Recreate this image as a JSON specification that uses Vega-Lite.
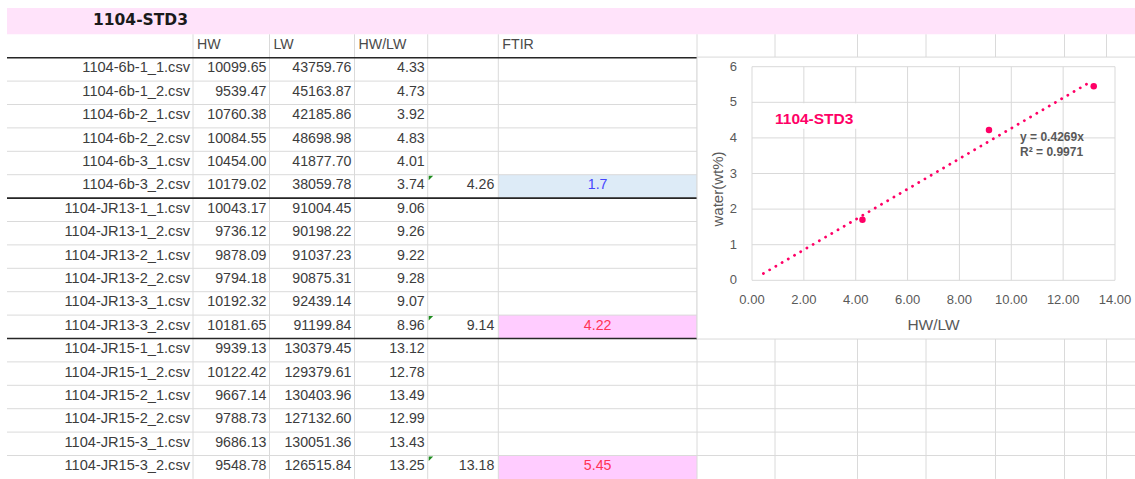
{
  "$schema": "https://vega.github.io/schema/vega-lite/v6.json",
  "width": 1135,
  "height": 479,
  "padding": 0,
  "autosize": {"type": "none"},
  "background": "white",
  "config": {"view": {"stroke": null}, "axis": {"disable": true}},
  "datasets": {
    "rows": [
      {"file": "1104-6b-1_1.csv", "sample": "6b", "HW": 10099.65, "LW": 43759.76, "ratio": 4.33},
      {"file": "1104-6b-1_2.csv", "sample": "6b", "HW": 9539.47, "LW": 45163.87, "ratio": 4.73},
      {"file": "1104-6b-2_1.csv", "sample": "6b", "HW": 10760.38, "LW": 42185.86, "ratio": 3.92},
      {"file": "1104-6b-2_2.csv", "sample": "6b", "HW": 10084.55, "LW": 48698.98, "ratio": 4.83},
      {"file": "1104-6b-3_1.csv", "sample": "6b", "HW": 10454.00, "LW": 41877.70, "ratio": 4.01},
      {"file": "1104-6b-3_2.csv", "sample": "6b", "HW": 10179.02, "LW": 38059.78, "ratio": 3.74, "avg": 4.26, "ftir": 1.7},
      {"file": "1104-JR13-1_1.csv", "sample": "JR13", "HW": 10043.17, "LW": 91004.45, "ratio": 9.06},
      {"file": "1104-JR13-1_2.csv", "sample": "JR13", "HW": 9736.12, "LW": 90198.22, "ratio": 9.26},
      {"file": "1104-JR13-2_1.csv", "sample": "JR13", "HW": 9878.09, "LW": 91037.23, "ratio": 9.22},
      {"file": "1104-JR13-2_2.csv", "sample": "JR13", "HW": 9794.18, "LW": 90875.31, "ratio": 9.28},
      {"file": "1104-JR13-3_1.csv", "sample": "JR13", "HW": 10192.32, "LW": 92439.14, "ratio": 9.07},
      {"file": "1104-JR13-3_2.csv", "sample": "JR13", "HW": 10181.65, "LW": 91199.84, "ratio": 8.96, "avg": 9.14, "ftir": 4.22},
      {"file": "1104-JR15-1_1.csv", "sample": "JR15", "HW": 9939.13, "LW": 130379.45, "ratio": 13.12},
      {"file": "1104-JR15-1_2.csv", "sample": "JR15", "HW": 10122.42, "LW": 129379.61, "ratio": 12.78},
      {"file": "1104-JR15-2_1.csv", "sample": "JR15", "HW": 9667.14, "LW": 130403.96, "ratio": 13.49},
      {"file": "1104-JR15-2_2.csv", "sample": "JR15", "HW": 9788.73, "LW": 127132.60, "ratio": 12.99},
      {"file": "1104-JR15-3_1.csv", "sample": "JR15", "HW": 9686.13, "LW": 130051.36, "ratio": 13.43},
      {"file": "1104-JR15-3_2.csv", "sample": "JR15", "HW": 9548.78, "LW": 126515.84, "ratio": 13.25, "avg": 13.18, "ftir": 5.45}
    ],
    "title": [{"label": "1104-STD3"}],
    "headers": [
      {"col": 1, "text": "HW"},
      {"col": 2, "text": "LW"},
      {"col": 3, "text": "HW/LW"},
      {"col": 5, "text": "FTIR"}
    ],
    "cols": [{"c": 1}, {"c": 2}, {"c": 3}, {"c": 4}, {"c": 5}, {"c": 6}, {"c": 7}, {"c": 8}, {"c": 9}, {"c": 10}, {"c": 11}, {"c": 12}],
    "xticks": [{"v": 0}, {"v": 2}, {"v": 4}, {"v": 6}, {"v": 8}, {"v": 10}, {"v": 12}, {"v": 14}],
    "yticks": [{"v": 0}, {"v": 1}, {"v": 2}, {"v": 3}, {"v": 4}, {"v": 5}, {"v": 6}],
    "trend": [{"ratio": 0.44, "water": 0.19}, {"ratio": 13.07, "water": 5.58}]
  },
  "resolve": {"scale": {"x": "independent", "y": "independent"}},
  "layer": [
    {
      "layer": [
        {
          "data": {"name": "title"},
          "mark": {"type": "rect", "fill": "#FFE3FA", "yOffset": -14.6, "y2Offset": -11.7},
          "encoding": {
            "x": {"datum": 0, "type": "quantitative", "scale": {"domain": [0, 1, 2, 3, 4, 5, 6, 7, 8, 9, 10, 11, 12, 13], "range": [7, 193, 269.5, 354.5, 427.7, 498.3, 697, 775, 857.5, 926, 995.5, 1064.5, 1106.5, 1135], "nice": false, "zero": false}},
            "x2": {"datum": 13},
            "y": {"datum": "__title", "type": "nominal", "scale": {"type": "band", "domain": ["__title", "__header", "1104-6b-1_1.csv", "1104-6b-1_2.csv", "1104-6b-2_1.csv", "1104-6b-2_2.csv", "1104-6b-3_1.csv", "1104-6b-3_2.csv", "1104-JR13-1_1.csv", "1104-JR13-1_2.csv", "1104-JR13-2_1.csv", "1104-JR13-2_2.csv", "1104-JR13-3_1.csv", "1104-JR13-3_2.csv", "1104-JR15-1_1.csv", "1104-JR15-1_2.csv", "1104-JR15-2_1.csv", "1104-JR15-2_2.csv", "1104-JR15-3_1.csv", "1104-JR15-3_2.csv"], "range": [10.9, 478.9], "paddingInner": 0, "paddingOuter": 0}},
            "y2": {"datum": "__header"}
          }
        },
        {
          "data": {"name": "rows"},
          "transform": [{"filter": "isValid(datum.ftir)"}],
          "mark": {"type": "rect"},
          "encoding": {
            "x": {"datum": 5, "type": "quantitative"},
            "x2": {"datum": 6},
            "y": {"field": "file", "type": "nominal"},
            "fill": {"field": "sample", "type": "nominal", "scale": {"domain": ["6b", "JR13", "JR15"], "range": ["#DDEBF7", "#FFCCFF", "#FFCCFF"]}, "legend": null}
          }
        },
        {
          "data": {"name": "rows"},
          "transform": [{"filter": "datum.file !== '1104-JR15-3_2.csv'"}],
          "mark": {"type": "rule", "color": "#DADADA", "strokeWidth": 1, "yOffset": 11.7},
          "encoding": {
            "x": {"datum": 0, "type": "quantitative"},
            "x2": {"datum": 13},
            "y": {"field": "file", "type": "nominal"}
          }
        },
        {
          "data": {"name": "title"},
          "mark": {"type": "rule", "color": "#DADADA", "strokeWidth": 1, "yOffset": 11.7},
          "encoding": {
            "x": {"datum": 0, "type": "quantitative"},
            "x2": {"datum": 13},
            "y": {"datum": "__header", "type": "nominal"}
          }
        },
        {
          "data": {"name": "cols"},
          "mark": {"type": "rule", "color": "#DADADA", "strokeWidth": 1, "yOffset": -11.7, "y2Offset": 11.7},
          "encoding": {
            "x": {"field": "c", "type": "quantitative"},
            "y": {"datum": "__header", "type": "nominal"},
            "y2": {"datum": "1104-JR15-3_2.csv"}
          }
        },
        {
          "data": {"name": "rows"},
          "transform": [{"filter": "isValid(datum.avg) && datum.file !== '1104-JR15-3_2.csv'"}],
          "mark": {"type": "rule", "color": "#262626", "strokeWidth": 1.6, "yOffset": 11.7},
          "encoding": {
            "x": {"datum": 0, "type": "quantitative"},
            "x2": {"datum": 6},
            "y": {"field": "file", "type": "nominal"}
          }
        },
        {
          "data": {"name": "title"},
          "mark": {"type": "rule", "color": "#262626", "strokeWidth": 1.6, "yOffset": 11.7},
          "encoding": {
            "x": {"datum": 0, "type": "quantitative"},
            "x2": {"datum": 6},
            "y": {"datum": "__header", "type": "nominal"}
          }
        },
        {
          "data": {"name": "rows"},
          "mark": {"type": "text", "align": "right", "baseline": "middle", "dx": -3, "dy": -1, "font": "Liberation Sans", "fontSize": 14.6, "color": "#3C3C3C"},
          "encoding": {
            "x": {"datum": 1, "type": "quantitative"},
            "y": {"field": "file", "type": "nominal"},
            "text": {"field": "file"}
          }
        },
        {
          "data": {"name": "rows"},
          "mark": {"type": "text", "align": "right", "baseline": "middle", "dx": -3, "dy": -1, "font": "Liberation Sans", "fontSize": 14.2, "color": "#3C3C3C"},
          "encoding": {
            "x": {"datum": 2, "type": "quantitative"},
            "y": {"field": "file", "type": "nominal"},
            "text": {"field": "HW", "type": "quantitative", "format": ".2f"}
          }
        },
        {
          "data": {"name": "rows"},
          "mark": {"type": "text", "align": "right", "baseline": "middle", "dx": -3, "dy": -1, "font": "Liberation Sans", "fontSize": 14.2, "color": "#3C3C3C"},
          "encoding": {
            "x": {"datum": 3, "type": "quantitative"},
            "y": {"field": "file", "type": "nominal"},
            "text": {"field": "LW", "type": "quantitative", "format": ".2f"}
          }
        },
        {
          "data": {"name": "rows"},
          "mark": {"type": "text", "align": "right", "baseline": "middle", "dx": -3, "dy": -1, "font": "Liberation Sans", "fontSize": 14.2, "color": "#3C3C3C"},
          "encoding": {
            "x": {"datum": 4, "type": "quantitative"},
            "y": {"field": "file", "type": "nominal"},
            "text": {"field": "ratio", "type": "quantitative", "format": ".2f"}
          }
        },
        {
          "data": {"name": "rows"},
          "transform": [{"filter": "isValid(datum.avg)"}],
          "mark": {"type": "text", "align": "right", "baseline": "middle", "dx": -4, "dy": -1, "font": "Liberation Sans", "fontSize": 14.2, "color": "#3C3C3C"},
          "encoding": {
            "x": {"datum": 5, "type": "quantitative"},
            "y": {"field": "file", "type": "nominal"},
            "text": {"field": "avg", "type": "quantitative", "format": ".2f"}
          }
        },
        {
          "data": {"name": "rows"},
          "transform": [{"filter": "isValid(datum.ftir)"}],
          "mark": {"type": "text", "align": "center", "baseline": "middle", "dy": -1, "font": "Liberation Sans", "fontSize": 14.2},
          "encoding": {
            "x": {"datum": 5.5, "type": "quantitative"},
            "y": {"field": "file", "type": "nominal"},
            "text": {"field": "ftir", "type": "quantitative"},
            "color": {"field": "sample", "type": "nominal", "scale": {"domain": ["6b", "JR13", "JR15"], "range": ["#4545FF", "#FF3355", "#FF3355"]}, "legend": null}
          }
        },
        {
          "data": {"name": "headers"},
          "mark": {"type": "text", "align": "left", "baseline": "middle", "dx": 4, "dy": -1, "font": "Liberation Sans", "fontSize": 14.2, "color": "#4A4A4A"},
          "encoding": {
            "x": {"field": "col", "type": "quantitative"},
            "y": {"datum": "__header", "type": "nominal"},
            "text": {"field": "text"}
          }
        },
        {
          "data": {"name": "title"},
          "mark": {"type": "text", "align": "left", "baseline": "middle", "dx": 86, "dy": -2.5, "font": "DejaVu Sans", "fontSize": 15.5, "fontWeight": "bold", "color": "#1A1A1A"},
          "encoding": {
            "x": {"datum": 0, "type": "quantitative"},
            "y": {"datum": "__title", "type": "nominal"},
            "text": {"field": "label"}
          }
        },
        {
          "data": {"name": "rows"},
          "transform": [{"filter": "isValid(datum.avg)"}],
          "mark": {"type": "point", "shape": "M0,0L2,0L0,2Z", "filled": true, "size": 20, "color": "#1E8C1E", "opacity": 1, "xOffset": 1, "yOffset": -10.7},
          "encoding": {
            "x": {"datum": 4, "type": "quantitative"},
            "y": {"field": "file", "type": "nominal"}
          }
        }
      ]
    },
    {
      "layer": [
        {
          "data": {"name": "title"},
          "mark": {"type": "rect", "fill": "white", "stroke": "#D9D9D9", "strokeWidth": 1},
          "encoding": {
            "x": {"datum": -2.12, "type": "quantitative", "scale": {"domain": [0, 14], "range": [752, 1115], "nice": false, "zero": false}},
            "x2": {"datum": 15},
            "y": {"datum": -1.65, "type": "quantitative", "scale": {"domain": [0, 6], "range": [280.3, 66.7], "nice": false, "zero": false}},
            "y2": {"datum": 6.27}
          }
        },
        {
          "data": {"name": "xticks"},
          "mark": {"type": "rule", "color": "#D9D9D9", "strokeWidth": 1},
          "encoding": {
            "x": {"field": "v", "type": "quantitative"},
            "y": {"datum": 0, "type": "quantitative"},
            "y2": {"datum": 6}
          }
        },
        {
          "data": {"name": "yticks"},
          "mark": {"type": "rule", "color": "#D9D9D9", "strokeWidth": 1},
          "encoding": {
            "y": {"field": "v", "type": "quantitative"},
            "x": {"datum": 0, "type": "quantitative"},
            "x2": {"datum": 14}
          }
        },
        {
          "data": {"name": "title"},
          "mark": {"type": "rect", "fill": "white"},
          "encoding": {
            "x": {"datum": 0.62, "type": "quantitative"},
            "x2": {"datum": 4.24},
            "y": {"datum": 4.26, "type": "quantitative"},
            "y2": {"datum": 4.97}
          }
        },
        {
          "data": {"name": "trend"},
          "mark": {"type": "line", "color": "#FF0066", "strokeWidth": 2.8, "strokeCap": "round", "strokeDash": [0.1, 7.1]},
          "encoding": {
            "x": {"field": "ratio", "type": "quantitative"},
            "y": {"field": "water", "type": "quantitative"}
          }
        },
        {
          "data": {"name": "rows"},
          "transform": [{"filter": "isValid(datum.ftir)"}],
          "mark": {"type": "point", "filled": true, "size": 42, "color": "#FF0066", "opacity": 1},
          "encoding": {
            "x": {"field": "avg", "type": "quantitative"},
            "y": {"field": "ftir", "type": "quantitative"}
          }
        },
        {
          "data": {"name": "xticks"},
          "mark": {"type": "text", "align": "center", "baseline": "middle", "dy": 20, "font": "Liberation Sans", "fontSize": 13, "color": "#595959"},
          "encoding": {
            "x": {"field": "v", "type": "quantitative"},
            "y": {"datum": 0, "type": "quantitative"},
            "text": {"field": "v", "type": "quantitative", "format": ".2f"}
          }
        },
        {
          "data": {"name": "yticks"},
          "mark": {"type": "text", "align": "right", "baseline": "middle", "dx": -15, "font": "Liberation Sans", "fontSize": 13, "color": "#595959"},
          "encoding": {
            "y": {"field": "v", "type": "quantitative"},
            "x": {"datum": 0, "type": "quantitative"},
            "text": {"field": "v", "type": "quantitative", "format": "d"}
          }
        },
        {
          "data": {"name": "title"},
          "mark": {"type": "text", "text": "HW/LW", "align": "center", "baseline": "middle", "dy": 45, "font": "Liberation Sans", "fontSize": 15.5, "color": "#595959"},
          "encoding": {
            "x": {"datum": 7, "type": "quantitative"},
            "y": {"datum": 0, "type": "quantitative"}
          }
        },
        {
          "data": {"name": "title"},
          "mark": {"type": "text", "text": "water(wt%)", "angle": 270, "align": "center", "baseline": "middle", "font": "Liberation Sans", "fontSize": 15, "color": "#595959"},
          "encoding": {
            "x": {"datum": -1.3, "type": "quantitative"},
            "y": {"datum": 2.565, "type": "quantitative"}
          }
        },
        {
          "data": {"name": "title"},
          "mark": {"type": "text", "align": "left", "baseline": "middle", "font": "Liberation Sans", "fontSize": 15.5, "fontWeight": "bold", "color": "#FF0066"},
          "encoding": {
            "x": {"datum": 0.887, "type": "quantitative"},
            "y": {"datum": 4.53, "type": "quantitative"},
            "text": {"field": "label"}
          }
        },
        {
          "data": {"name": "title"},
          "mark": {"type": "text", "text": "y = 0.4269x", "align": "left", "baseline": "middle", "font": "Liberation Sans", "fontSize": 12, "fontWeight": "bold", "color": "#595959"},
          "encoding": {
            "x": {"datum": 10.34, "type": "quantitative"},
            "y": {"datum": 4.03, "type": "quantitative"}
          }
        },
        {
          "data": {"name": "title"},
          "mark": {"type": "text", "text": "R² = 0.9971", "align": "left", "baseline": "middle", "font": "Liberation Sans", "fontSize": 12, "fontWeight": "bold", "color": "#595959"},
          "encoding": {
            "x": {"datum": 10.34, "type": "quantitative"},
            "y": {"datum": 3.61, "type": "quantitative"}
          }
        }
      ]
    }
  ]
}
